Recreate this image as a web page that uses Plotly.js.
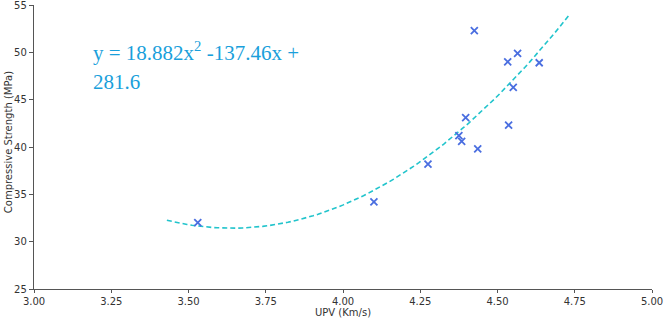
<!DOCTYPE html>
<html>
<head>
<meta charset="utf-8">
<script src="https://cdn.plot.ly/plotly-3.0.1.min.js"></script>
<style>html,body{margin:0;padding:0;background:#fff;}#chart{width:665px;height:318px;}</style>
</head>
<body>
<div id="chart"></div>
<script>
// Measured data (UPV km/s vs compressive strength MPa)
const upv = [3.53, 4.10, 4.275, 4.375, 4.384, 4.397, 4.425, 4.436, 4.533, 4.536, 4.551, 4.565, 4.635];
const strength = [32.0, 34.2, 38.2, 41.2, 40.6, 43.1, 52.3, 39.8, 49.0, 42.3, 46.3, 49.9, 48.9];

// Fitted polynomial coefficients shown on the chart: y = a x^2 + b x + c
const fitCoef = [18.882, -137.46, 281.6];
const fitRange = [3.43, 4.735];

const xTicks = [3.00, 3.25, 3.50, 3.75, 4.00, 4.25, 4.50, 4.75, 5.00];
const xTickText = ["3.00", "3.25", "3.50", "3.75", "4.00", "4.25", "4.50", "4.75", "5.00"];
const yTicks = [25, 30, 35, 40, 45, 50, 55];

const fitX = [], fitY = [];
const nSteps = 80;
for (let i = 0; i <= nSteps; i++) {
  const x = fitRange[0] + (fitRange[1] - fitRange[0]) * i / nSteps;
  fitX.push(x);
  fitY.push(fitCoef[0] * x * x + fitCoef[1] * x + fitCoef[2]);
}

const traces = [
  {
    x: fitX, y: fitY, type: 'scatter', mode: 'lines',
    line: {color: '#22c4cc', width: 1.6, dash: '5px,3px'},
    hoverinfo: 'skip', showlegend: false
  },
  {
    x: upv, y: strength, type: 'scatter', mode: 'markers',
    marker: {symbol: 'x-thin', size: 7, line: {color: '#4a6ee0', width: 1.8}, color: '#4a6ee0'},
    showlegend: false
  }
];

const labelFont = {family: 'DejaVu Sans, sans-serif', size: 10, color: '#333'};

const layout = {
  width: 665, height: 318,
  margin: {l: 34, r: 13, t: 5, b: 29},
  paper_bgcolor: '#fff', plot_bgcolor: '#fff',
  showlegend: false,
  xaxis: {
    range: [3.0, 5.0], tickvals: xTicks, ticktext: xTickText,
    showgrid: false, zeroline: false,
    showline: true, linecolor: '#555', linewidth: 1.2,
    ticks: 'outside', ticklen: 3, tickcolor: '#555', tickwidth: 1,
    ticklabeloverflow: 'allow',
    tickfont: labelFont
  },
  yaxis: {
    range: [25, 55], tickvals: yTicks,
    showgrid: false, zeroline: false,
    showline: true, linecolor: '#555', linewidth: 1.2,
    ticks: 'outside', ticklen: 4, tickcolor: '#555', tickwidth: 1,
    ticklabeloverflow: 'allow',
    tickfont: labelFont
  },
  annotations: [
    {
      xref: 'paper', yref: 'paper', x: 0.5, y: -0.082, xanchor: 'center', yanchor: 'middle',
      text: 'UPV (Km/s)', showarrow: false, borderpad: 0, font: labelFont
    },
    {
      xref: 'paper', yref: 'paper', x: -0.042, y: 0.517, xanchor: 'center', yanchor: 'middle',
      text: 'Compressive Strength (MPa)', showarrow: false, textangle: -90, borderpad: 0, font: labelFont
    },
    {
      xref: 'paper', yref: 'paper', x: 0.092, y: 0.835, xanchor: 'left', yanchor: 'middle',
      text: 'y = 18.882x<sup>2</sup> -137.46x +', showarrow: false,
      font: {family: 'Liberation Serif, serif', size: 21, color: '#1a9fdb'}
    },
    {
      xref: 'paper', yref: 'paper', x: 0.092, y: 0.73, xanchor: 'left', yanchor: 'middle',
      text: '281.6', showarrow: false,
      font: {family: 'Liberation Serif, serif', size: 21, color: '#1a9fdb'}
    }
  ]
};

Plotly.newPlot('chart', traces, layout, {displayModeBar: false, staticPlot: true});
</script>
</body>
</html>
